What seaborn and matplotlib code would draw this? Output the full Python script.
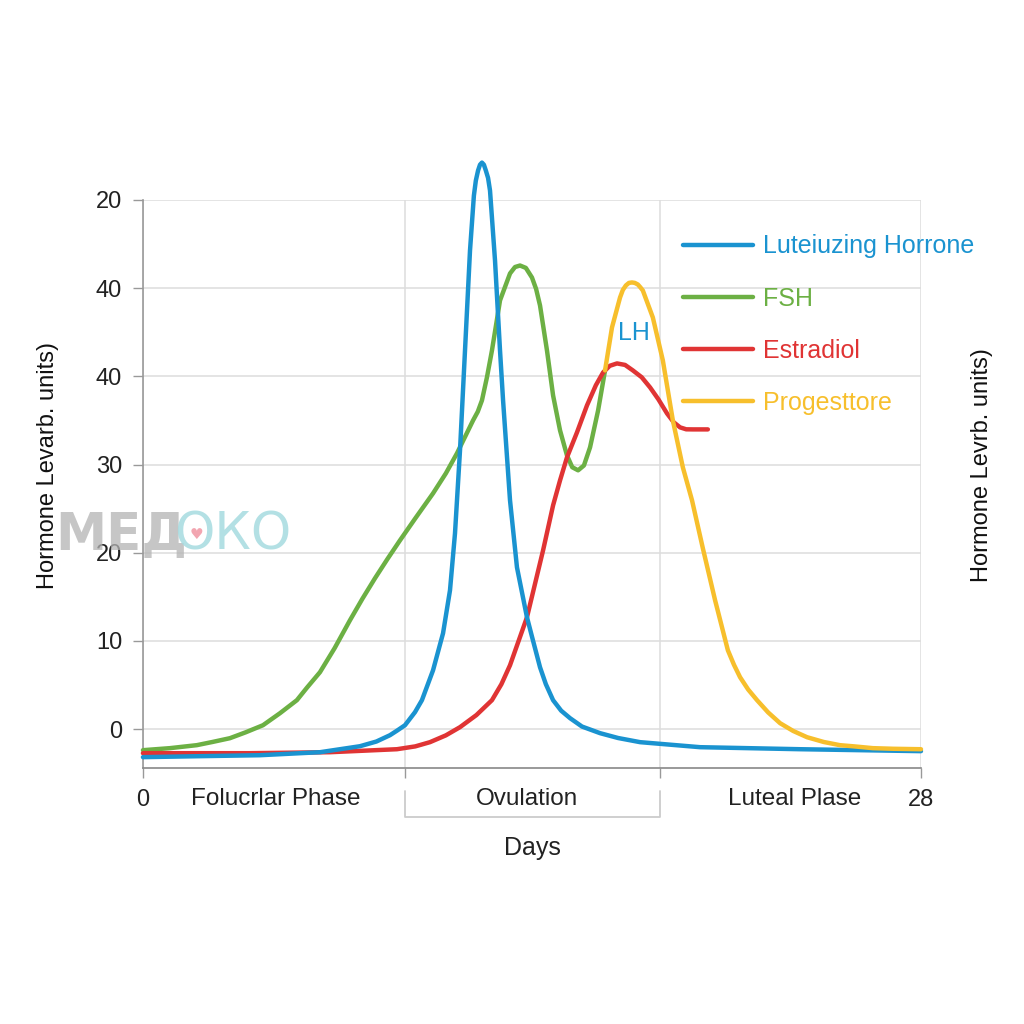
import numpy as np
import pandas as pd
import matplotlib
matplotlib.use("Agg")
import matplotlib.pyplot as plt
import matplotlib.transforms as mtransforms
from matplotlib.lines import Line2D
import seaborn as sns

# --- data (day of cycle, hormone level) ---
lh_day = [0.0, 2.05, 4.21, 6.37, 7.81, 8.4, 8.89, 9.15, 9.43, 9.79, 10.04, 10.44, 10.80,
          11.05, 11.23, 11.41, 11.59, 11.77, 11.91, 11.98, 12.06, 12.13, 12.20, 12.27,
          12.34, 12.42, 12.49, 12.67, 12.85, 12.96, 13.21, 13.46, 13.82, 14.0, 14.29,
          14.5, 14.76, 15.05, 15.37, 15.8, 16.45, 17.1, 17.89, 20.05, 23.65, 28.0]
lh_level = [-3.17, -3.06, -2.95, -2.61, -1.93, -1.4, -0.68, -0.15, 0.45, 1.93, 3.29, 6.68,
            10.88, 15.75, 22.21, 31.61, 42.94, 54.27, 60.50, 62.2, 63.34, 64.0, 64.24,
            64.0, 63.34, 62.5, 61.07, 53.14, 42.94, 37.28, 25.95, 18.35, 12.69, 10.5,
            7.02, 5.1, 3.29, 2.1, 1.25, 0.3, -0.45, -1.0, -1.47, -2.04, -2.27, -2.49]

fsh_day = [0.0, 0.97, 1.94, 2.5, 3.13, 3.7, 4.32, 4.93, 5.54, 5.9, 6.37, 6.9, 7.45, 7.9,
           8.35, 8.8, 9.25, 9.8, 10.44, 10.9, 11.30, 11.88, 12.05, 12.20, 12.38, 12.56,
           12.85, 13.21, 13.39, 13.57, 13.78, 14.00, 14.15, 14.29, 14.54, 14.76, 15.01,
           15.26, 15.45, 15.66, 15.87, 16.09, 16.38, 16.63]
fsh_level = [-2.38, -2.15, -1.81, -1.45, -1.02, -0.35, 0.45, 1.81, 3.29, 4.7, 6.46, 9.2,
             12.35, 14.8, 17.11, 19.3, 21.41, 23.9, 26.74, 29.0, 31.27, 35.01, 36.0,
             37.28, 39.9, 42.94, 48.61, 51.67, 52.4, 52.57, 52.3, 51.21, 49.9, 48.04,
             42.94, 37.84, 33.88, 31.04, 29.7, 29.35, 29.9, 31.95, 36.14, 40.68]

e2_day = [0.0, 3.85, 6.73, 9.14, 9.8, 10.33, 10.9, 11.41, 12.0, 12.56, 12.9, 13.21, 13.82,
          14.40, 14.76, 15.01, 15.26, 15.62, 15.98, 16.3, 16.56, 16.8, 17.06, 17.35, 17.63,
          17.95, 18.25, 18.55, 18.86, 19.1, 19.33, 19.55, 19.79, 20.33]
e2_level = [-2.72, -2.72, -2.61, -2.27, -1.95, -1.47, -0.7, 0.23, 1.6, 3.29, 5.1, 7.25,
            12.69, 20.28, 25.38, 28.21, 30.82, 33.65, 36.71, 39.0, 40.45, 41.2, 41.47,
            41.3, 40.68, 39.9, 38.75, 37.4, 35.80, 34.8, 34.22, 34.0, 33.99, 33.99]

prog_day = [16.63, 16.88, 17.17, 17.27, 17.38, 17.49, 17.60, 17.70, 17.81, 17.90, 17.99,
            18.35, 18.71, 19.07, 19.43, 19.76, 20.15, 20.59, 21.05, 21.27, 21.49, 21.78,
            22.10, 22.5, 22.93, 23.4, 23.90, 24.5, 25.08, 25.6, 26.27, 27.0, 28.0]
prog_level = [40.68, 45.55, 48.95, 49.8, 50.31, 50.6, 50.65, 50.6, 50.42, 50.1, 49.74,
              46.68, 41.81, 35.01, 29.69, 25.95, 20.51, 14.62, 8.95, 7.3, 5.89, 4.5,
              3.29, 1.9, 0.68, -0.2, -0.91, -1.45, -1.81, -1.95, -2.15, -2.22, -2.27]

series_names = ["Luteiuzing Horrone", "FSH", "Estradiol", "Progesttore"]
series_colors = ["#1a93d0", "#6cb044", "#e03434", "#f7bf2c"]

y_ticks = [0, 10, 20, 30, 40, 50, 60]
y_tick_labels = ["0", "10", "20", "30", "40", "40", "20"]
phase_bounds = [0, 9.43, 18.6, 28]
phase_labels = ["Folucrlar Phase", "Ovulation", "Luteal Plase"]
phase_centers = [4.79, 13.82, 23.46]

sns.set_theme(style="white")
plt.rcParams["font.family"] = ["Liberation Sans", "DejaVu Sans"]

fig = plt.figure(figsize=(10.24, 10.24), dpi=100)
ax = fig.add_axes([0.1396, 0.25, 0.7598, 0.5547])

# watermark behind everything
fig.text(0.054, 0.477, "МЕД", fontsize=37, fontweight="bold", color="#b4b4b4",
         alpha=0.75, va="center", ha="left", family=["DejaVu Sans"], zorder=0)
fig.text(0.170, 0.477, "ОКО", fontsize=37, color="#a6dbe0", alpha=0.85,
         va="center", ha="left", family=["DejaVu Sans"], zorder=0)
fig.text(0.192, 0.478, "\u2665", fontsize=11, color="#f2a5b0", ha="center",
         va="center", family=["DejaVu Sans"], zorder=0)
ax.patch.set_alpha(0)

# curves (drawing order: FSH, Estradiol, LH, Progesterone)
curves = [
    (fsh_day, fsh_level, series_colors[1]),
    (e2_day, e2_level, series_colors[2]),
    (lh_day, lh_level, series_colors[0]),
    (prog_day, prog_level, series_colors[3]),
]
for xs, ys, col in curves:
    df = pd.DataFrame({"day": xs, "level": ys})
    sns.lineplot(data=df, x="day", y="level", ax=ax, color=col, lw=3.2,
                 sort=False, estimator=None, clip_on=False, zorder=3,
                 solid_joinstyle="round", solid_capstyle="round")

ax.set_xlim(0, 28)
ax.set_ylim(-4.4, 60)
ax.set_yticks(y_ticks)
ax.set_yticklabels(y_tick_labels, fontsize=17, color="#222222")
ax.set_xticks(phase_bounds)
ax.set_xticklabels(["0", "", "", "28"], fontsize=17, color="#222222")
ax.tick_params(axis="both", direction="out", length=7, width=1, color="#999999",
               bottom=True, left=True)
ax.tick_params(axis="x", pad=8)
ax.tick_params(axis="y", pad=8)

ax.grid(True, color="#dddddd", lw=1.1)
ax.set_axisbelow(True)
for s in ["top", "right"]:
    ax.spines[s].set_visible(False)
ax.spines["left"].set_color("#999999")
ax.spines["bottom"].set_color("#888888")
ax.spines["left"].set_linewidth(1.2)
ax.spines["bottom"].set_linewidth(1.2)

# phase labels between the ticks
trans = mtransforms.blended_transform_factory(ax.transData, ax.transAxes)
for xc, lab in zip(phase_centers, phase_labels):
    ax.text(xc, -0.0546, lab, transform=trans, ha="center", va="center",
            fontsize=17.5, color="#222222")
ax.plot([phase_bounds[1], phase_bounds[1], phase_bounds[2], phase_bounds[2]],
        [-0.040, -0.0863, -0.0863, -0.040], transform=trans, color="#cccccc",
        lw=1.3, clip_on=False)

ax.set_xlabel("Days", fontsize=18, color="#222222", labelpad=18)
ax.set_ylabel("Hormone Levarb. units)", fontsize=17, color="#111111")
ax.yaxis.set_label_coords(-0.108, 0.533)
fig.text(0.959, 0.546, "Hormone Levrb. units)", rotation=90, fontsize=17,
         color="#111111", ha="center", va="center")

ax.text(17.67, 44.87, "LH", fontsize=18, color=series_colors[0], ha="center", va="center")

handles = [Line2D([0], [0], color=c, lw=3.2) for c in series_colors]
leg = ax.legend(handles, series_names, loc="upper left",
                bbox_to_anchor=(0.667, 0.771), bbox_transform=fig.transFigure,
                frameon=False, fontsize=18, handlelength=2.8, handletextpad=0.4,
                labelspacing=1.13, borderpad=0, borderaxespad=0)
for txt, c in zip(leg.get_texts(), series_colors):
    txt.set_color(c)

fig.savefig("out.png", dpi=100)
